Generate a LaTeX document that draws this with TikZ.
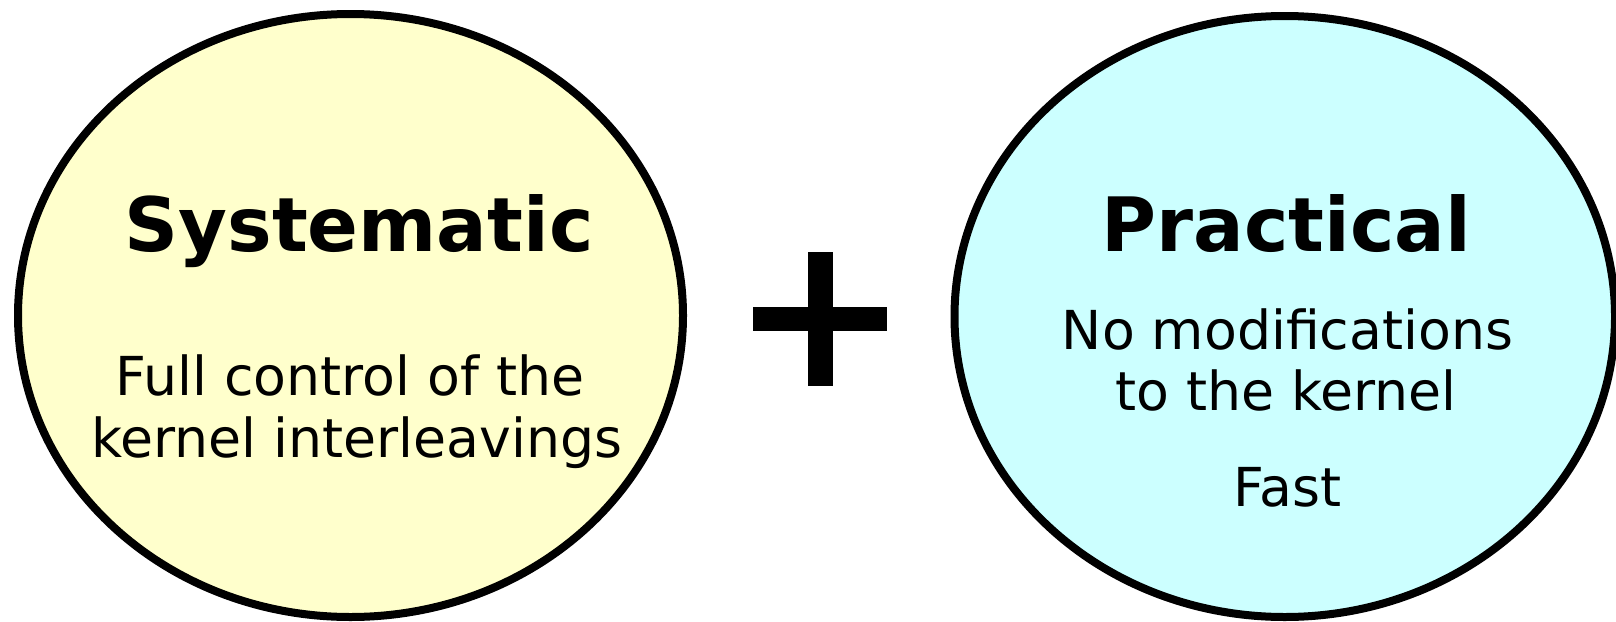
\documentclass[tikz,border=0pt]{standalone}
\usepackage{fontspec}
\setmainfont{DejaVu Sans}
\usetikzlibrary{shapes.geometric}
\definecolor{lyellow}{RGB}{255,255,204}
\definecolor{lcyan}{RGB}{204,255,255}
\tikzset{
  bubble/.style={ellipse, draw=black, line width=8pt, inner sep=0pt, outer sep=0pt},
  title/.style={anchor=base, inner sep=0pt, font=\fontsize{75}{87}\selectfont\bfseries},
  body/.style={anchor=base, inner sep=0pt, font=\fontsize{53.7}{62}\selectfont},
  plusbar/.style={fill=black, draw=none}
}
\begin{document}
\begin{tikzpicture}[x=1pt, y=-1pt]
\useasboundingbox (0,0) rectangle (1616,621);
\node[bubble, fill=lyellow, minimum width=665pt, minimum height=603pt] (L) at (350.5,315.5) {};
\node[bubble, fill=lcyan, minimum width=660.5pt, minimum height=601pt] (R) at (1284.75,316.5) {};
\node[title] (t1) at (359,251.7) {Systematic};
\node[body] (l1) at (350,395) {Full control of the};
\node[body] (l2) at (357,457) {kernel interleavings};
\node[title] (t2) at (1286.5,251.7) {Practical};
\node[body] (r1) at (1287.5,349) {No modifications};
\node[body] (r2) at (1286,410.7) {to the kernel};
\node[body] (r3) at (1287.5,506.7) {Fast};
\fill[plusbar] (808,252) rectangle (833,386);
\fill[plusbar] (753,307) rectangle (887,331);
\end{tikzpicture}
\end{document}
